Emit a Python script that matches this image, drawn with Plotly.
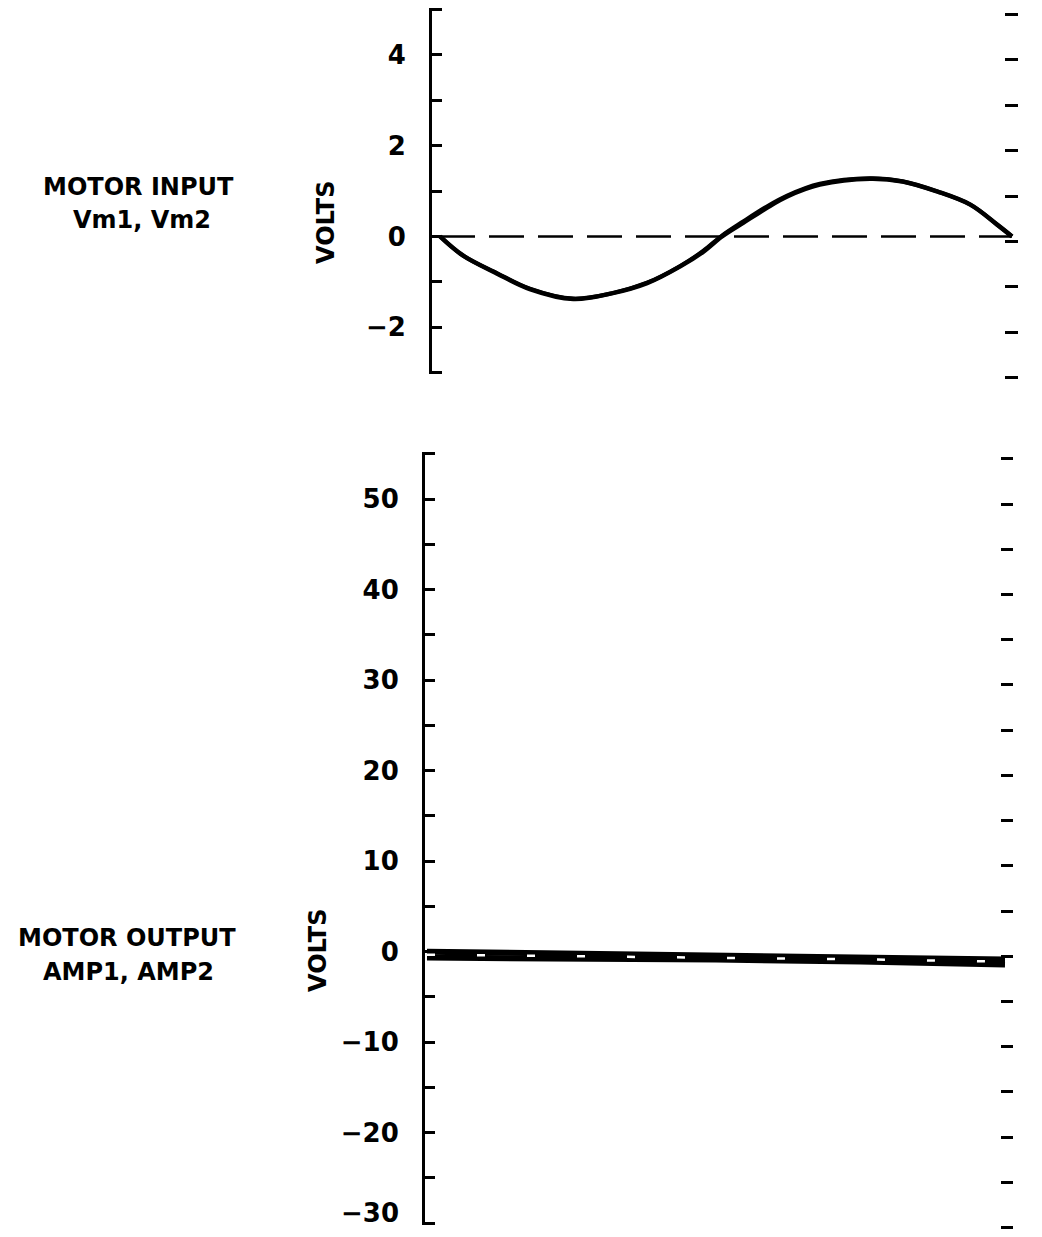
import plotly.graph_objects as go

# the page body keeps its default 8px margin; the figure is sized to fit inside the window
OFF = 8
W, H = 1042 - 2 * OFF, 1237 - 2 * OFF

# ---- data ----
t_in = [0.0, 0.040, 0.100, 0.157, 0.233, 0.302, 0.362, 0.420, 0.460, 0.493, 0.530,
        0.570, 0.607, 0.664, 0.752, 0.809, 0.869, 0.927, 0.974, 1.0]
vm1 = [0.0, -0.42, -0.82, -1.16, -1.38, -1.25, -1.03, -0.66, -0.34, 0.0, 0.30,
       0.62, 0.88, 1.14, 1.27, 1.21, 0.99, 0.70, 0.26, 0.0]
vm2 = [0.0, -0.42, -0.81, -1.15, -1.37, -1.25, -1.02, -0.65, -0.32, 0.02, 0.33,
       0.65, 0.90, 1.16, 1.28, 1.21, 0.99, 0.70, 0.26, 0.0]
zero_t = [0.0, 1.0]
zero_v = [0.0, 0.0]

t_out = [0.0, 0.25, 0.5, 0.75, 1.0]
amp1 = [0.0, -0.20, -0.44, -0.65, -0.88]
amp2 = [-0.66, -0.75, -0.88, -1.10, -1.43]
ref_out = [-0.33, -0.50, -0.66, -0.85, -1.10]

top_ticks = [-3, -2, -1, 0, 1, 2, 3, 4, 5]
top_labels = ["", "\u22122", "", "0", "", "2", "", "4", ""]
bot_ticks = [-30, -25, -20, -15, -10, -5, 0, 5, 10, 15, 20, 25, 30, 35, 40, 45, 50, 55]
bot_labels = ["\u221230", "", "\u221220", "", "\u221210", "", "0", "", "10", "", "20", "",
              "30", "", "40", "", "50", ""]


def px(x):
    return min(1.0, max(0.0, (x - OFF) / W))


def py(y):
    return min(1.0, max(0.0, 1 - (y - OFF) / H))


FONT = "DejaVu Sans, Verdana, sans-serif"

fig = go.Figure()

# top panel
fig.add_trace(go.Scatter(x=zero_t, y=zero_v, mode="lines", xaxis="x", yaxis="y",
                         line=dict(color="black", width=2.5, dash="35px,14px"),
                         showlegend=False, hoverinfo="skip"))
fig.add_trace(go.Scatter(x=t_in, y=vm1, mode="lines", xaxis="x", yaxis="y", name="Vm1",
                         line=dict(color="black", width=4.5, shape="spline", smoothing=1),
                         showlegend=False))
fig.add_trace(go.Scatter(x=t_in, y=vm2, mode="lines", xaxis="x", yaxis="y", name="Vm2",
                         line=dict(color="black", width=4, shape="spline", smoothing=1),
                         showlegend=False))
# carrier for right-hand tick axis (top)
fig.add_trace(go.Scatter(x=zero_t, y=zero_v, mode="lines", xaxis="x3", yaxis="y3",
                         line=dict(color="rgba(0,0,0,0)"), showlegend=False,
                         hoverinfo="skip"))

# bottom panel
fig.add_trace(go.Scatter(x=t_out, y=amp1, mode="lines", xaxis="x2", yaxis="y2", name="AMP1",
                         line=dict(color="black", width=6), showlegend=False))
fig.add_trace(go.Scatter(x=t_out, y=amp2, mode="lines", xaxis="x2", yaxis="y2", name="AMP2",
                         line=dict(color="black", width=6), showlegend=False))
fig.add_trace(go.Scatter(x=t_out, y=ref_out, mode="lines", xaxis="x2", yaxis="y2",
                         line=dict(color="white", width=2.5, dash="8px,42px"),
                         showlegend=False, hoverinfo="skip"))
# carrier for right-hand tick axis (bottom)
fig.add_trace(go.Scatter(x=zero_t, y=zero_v, mode="lines", xaxis="x4", yaxis="y4",
                         line=dict(color="rgba(0,0,0,0)"), showlegend=False,
                         hoverinfo="skip"))

TICKFONT = dict(family=FONT, size=26, color="black", weight="bold")
left_axis = dict(showline=True, linecolor="black", linewidth=3, ticks="inside",
                 ticklen=10, tickwidth=2.5, tickcolor="black", showgrid=False,
                 zeroline=False, tickfont=TICKFONT,
                 ticklabelstandoff=18, tickmode="array")
right_axis = dict(showline=False, ticks="inside", ticklen=13, tickwidth=3,
                  tickcolor="black", showgrid=False, zeroline=False,
                  showticklabels=False, tickmode="array", side="right")

top_rng = [-3.03, 5.03]
bot_rng = [-30.2, 55.2]
top_x = [px(432), px(1018)]
bot_x = [px(425), px(1013)]
top_xr = [-8 / 572, 1 + 6 / 572]
bot_xr = [-2 / 578, 1 + 8 / 578]

# the lowest label would overflow the page edge as a tick label, so it is set as text below
bot_ticktext = [""] + bot_labels[1:]

fig.update_layout(
    width=W, height=H, margin=dict(l=0, r=0, t=0, b=0),
    paper_bgcolor="white", plot_bgcolor="rgba(0,0,0,0)", showlegend=False,
    xaxis=dict(domain=top_x, range=top_xr, anchor="y", visible=False),
    yaxis=dict(domain=[py(374), py(8)], range=top_rng, anchor="x",
               tickvals=top_ticks, ticktext=top_labels, **left_axis),
    xaxis3=dict(domain=top_x, range=top_xr, anchor="y3", visible=False),
    yaxis3=dict(domain=[py(379), py(13)], range=top_rng, anchor="x3",
                tickvals=top_ticks, **right_axis),
    xaxis2=dict(domain=bot_x, range=bot_xr, anchor="y2", visible=False),
    yaxis2=dict(domain=[py(1225), py(452)], range=bot_rng, anchor="x2",
                tickvals=bot_ticks, ticktext=bot_ticktext, **left_axis),
    xaxis4=dict(domain=bot_x, range=bot_xr, anchor="y4", visible=False),
    yaxis4=dict(domain=[py(1229), py(457)], range=[bot_rng[0] + 0.05, bot_rng[1]],
                anchor="x4", tickvals=bot_ticks, **{**right_axis, "ticklen": 12}),
)

fig.add_annotation(text=bot_labels[0], x=px(400), y=0, xref="paper", yref="paper",
                   showarrow=False, font=TICKFONT, xanchor="right", yanchor="bottom",
                   borderpad=0)

ann_font = dict(family=FONT, size=24, color="black", weight="bold")
annots = [
    ("MOTOR INPUT", 138, 187, 0),
    ("Vm1, Vm2", 142, 220, 0),
    ("MOTOR OUTPUT", 127, 938, 0),
    ("AMP1, AMP2", 128, 972, 0),
    ("VOLTS", 326, 222, -90),
    ("VOLTS", 318, 950, -90),
]
for text, x, y, ang in annots:
    fig.add_annotation(text=text, x=px(x), y=py(y), xref="paper", yref="paper",
                       showarrow=False, textangle=ang, font=ann_font,
                       xanchor="center", yanchor="middle")

fig.write_html("out.html")
